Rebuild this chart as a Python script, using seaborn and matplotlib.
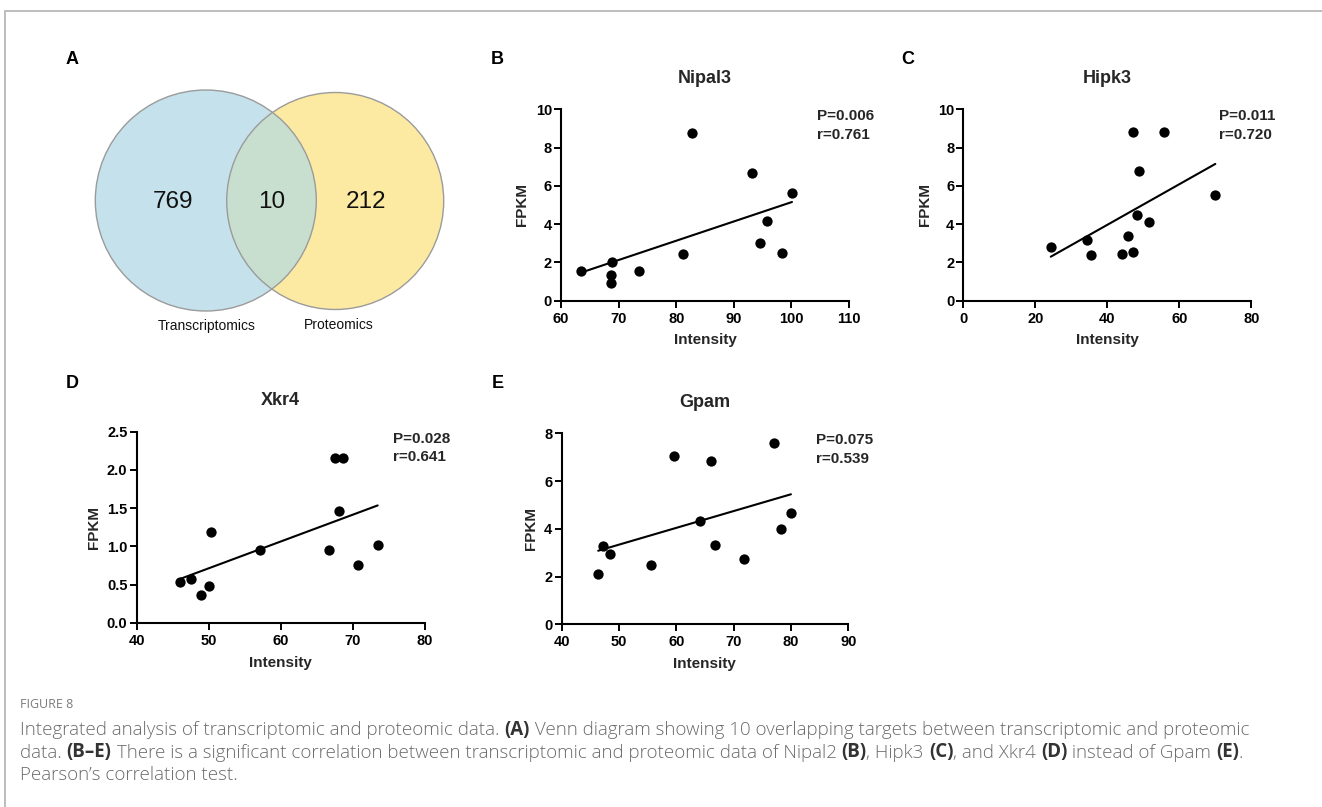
import numpy as np
import pandas as pd
import matplotlib
matplotlib.use("Agg")
import matplotlib.pyplot as plt
from matplotlib.patches import Circle
import seaborn as sns

# ---------------- data ----------------
venn_sets = ["Transcriptomics", "Proteomics"]
venn_counts = [769, 10, 212]   # transcriptomics only, overlap, proteomics only

genes = ["Nipal3", "Hipk3", "Xkr4", "Gpam"]
panel_letters = ["B", "C", "D", "E"]

nipal3_x = [63.5, 68.9, 68.6, 68.6, 73.5, 81.1, 82.8, 93.1, 94.6, 95.8, 98.4, 100.1]
nipal3_y = [1.53, 2.00, 1.36, 0.91, 1.53, 2.42, 8.75, 6.69, 3.03, 4.15, 2.51, 5.63]
hipk3_x = [24.3, 34.3, 35.6, 44.0, 45.8, 47.1, 48.3, 51.6, 48.9, 47.1, 55.8, 70.0]
hipk3_y = [2.82, 3.17, 2.39, 2.42, 3.36, 2.56, 4.48, 4.10, 6.79, 8.83, 8.83, 5.54]
xkr4_x = [46.1, 47.5, 48.9, 50.1, 50.4, 57.1, 66.7, 67.6, 68.7, 68.1, 70.8, 73.5]
xkr4_y = [0.53, 0.58, 0.37, 0.48, 1.19, 0.95, 0.95, 2.16, 2.15, 1.47, 0.76, 1.02]
gpam_x = [46.4, 47.3, 48.5, 55.6, 59.6, 64.2, 66.0, 66.7, 71.9, 77.1, 78.2, 80.0]
gpam_y = [2.11, 3.30, 2.96, 2.47, 7.04, 4.33, 6.86, 3.32, 2.75, 7.60, 3.98, 4.66]

p_values = ["0.006", "0.011", "0.028", "0.075"]
r_values = ["0.761", "0.720", "0.641", "0.539"]

x_ticks = [[60, 70, 80, 90, 100, 110], [0, 20, 40, 60, 80],
           [40, 50, 60, 70, 80], [40, 50, 60, 70, 80, 90]]
y_ticks = [[0, 2, 4, 6, 8, 10], [0, 2, 4, 6, 8, 10],
           [0.0, 0.5, 1.0, 1.5, 2.0, 2.5], [0, 2, 4, 6, 8]]
y_fmt = ["{:.0f}", "{:.0f}", "{:.1f}", "{:.0f}"]

x_label = "Intensity"
y_label = "FPKM"

caption_head = "FIGURE 8"
caption_lines = [
    [("Integrated analysis of transcriptomic and proteomic data. ", False), ("(A)", True),
     (" Venn diagram showing 10 overlapping targets between transcriptomic and proteomic", False)],
    [("data. ", False), ("(B\u2013E)", True),
     (" There is a significant correlation between transcriptomic and proteomic data of Nipal2 ", False),
     ("(B)", True), (", Hipk3 ", False), ("(C)", True), (", and Xkr4 ", False), ("(D)", True),
     (" instead of Gpam ", False), ("(E)", True), (".", False)],
    [("Pearson\u2019s correlation test.", False)],
]

# ---------------- style ----------------
sns.set_theme(style="ticks")
plt.rcParams["font.family"] = ["Liberation Sans", "DejaVu Sans"]

W, H = 1322, 807
fig = plt.figure(figsize=(W / 100, H / 100), dpi=100)
fig.patch.set_facecolor("white")


def px_axes(left, top, right, bottom):
    return fig.add_axes([left / W, 1 - bottom / H, (right - left) / W, (bottom - top) / H])


# frame lines of the figure box
frame = fig.add_axes([0, 0, 1, 1], zorder=-5)
frame.set_xlim(0, W)
frame.set_ylim(H, 0)
frame.axis("off")
frame.plot([4.5, W], [10.5, 10.5], color="#bdbdbd", lw=1.4)
frame.plot([4.5, 4.5], [10.5, H], color="#bdbdbd", lw=1.4)

# ---------------- panel A : Venn ----------------
va = px_axes(60, 70, 460, 345)
va.set_xlim(60, 460)
va.set_ylim(345, 70)
va.set_aspect("equal")
va.axis("off")
c_left = Circle((205.8, 200.5), 110.5, facecolor="#c5e1ec", edgecolor="none")
c_right = Circle((335.2, 201.0), 108.5, facecolor="#fdeaa2", edgecolor="none")
va.add_patch(c_left)
va.add_patch(c_right)
c_mid = Circle((335.2, 201.0), 108.5, facecolor="#c8dfcf", edgecolor="none")
va.add_patch(c_mid)
c_mid.set_clip_path(c_left)
va.add_patch(Circle((205.8, 200.5), 110.5, facecolor="none", edgecolor="#9b9b9b", lw=1.0))
va.add_patch(Circle((335.2, 201.0), 108.5, facecolor="none", edgecolor="#9b9b9b", lw=1.0))
for xx, cnt in zip([173, 271.7, 366], venn_counts):
    va.text(xx, 202, str(cnt), ha="center", va="center", fontsize=17.5, color="#111111")
va.text(206.7, 326, venn_sets[0], ha="center", va="center", fontsize=10, color="#111111")
va.text(339, 325, venn_sets[1], ha="center", va="center", fontsize=10, color="#111111")

# ---------------- scatter panels ----------------
rects = [(561, 109.3, 849, 300.7), (963.3, 109.3, 1251.3, 300.7),
         (136.5, 431.7, 424.5, 623.0), (561.5, 433.3, 848.3, 624.3)]
xs = [nipal3_x, hipk3_x, xkr4_x, gpam_x]
ys = [nipal3_y, hipk3_y, xkr4_y, gpam_y]

for i, gene in enumerate(genes):
    ax = px_axes(*rects[i])
    df = pd.DataFrame({"Intensity": xs[i], "FPKM": ys[i]})
    sns.regplot(data=df, x="Intensity", y="FPKM", ax=ax, ci=None, truncate=True,
                scatter_kws=dict(s=55, color="black", linewidths=0, alpha=1),
                line_kws=dict(color="black", lw=1.5))
    ax.set_facecolor("white")
    ax.set_xlim(x_ticks[i][0], x_ticks[i][-1])
    ax.set_ylim(y_ticks[i][0], y_ticks[i][-1])
    ax.set_xticks(x_ticks[i])
    ax.set_xticklabels([str(t) for t in x_ticks[i]])
    ax.set_yticks(y_ticks[i])
    ax.set_yticklabels([y_fmt[i].format(t) for t in y_ticks[i]])
    for s in ["top", "right"]:
        ax.spines[s].set_visible(False)
    for s in ["left", "bottom"]:
        ax.spines[s].set_linewidth(1.5)
        ax.spines[s].set_color("black")
    ax.tick_params(axis="both", direction="out", length=5, width=1.4, colors="black",
                   labelsize=10.5)
    ax.tick_params(axis="x", pad=3)
    ax.tick_params(axis="y", pad=1.5)
    for lab in ax.get_xticklabels() + ax.get_yticklabels():
        lab.set_fontweight("bold")
    ax.set_xlabel(x_label, fontsize=11, fontweight="bold", labelpad=5.5)
    ax.set_ylabel(y_label, fontsize=11, fontweight="bold", labelpad=4.5)
    ax.grid(False)
    hpx = rects[i][3] - rects[i][1]
    ax.text(0.5, 1 + 31 / hpx, gene, transform=ax.transAxes, ha="center", va="center",
            fontsize=13, fontweight="bold")
    ax.text(0.889, 1 - 7 / hpx, "P=" + p_values[i], transform=ax.transAxes, ha="left",
            va="center", fontsize=11, fontweight="bold")
    ax.text(0.889, 1 - 25.5 / hpx, "r=" + r_values[i], transform=ax.transAxes, ha="left",
            va="center", fontsize=11, fontweight="bold")

# panel letters
for letter, (lx, ly) in zip(["A"] + panel_letters,
                            [(72, 60), (497, 59), (908, 59), (72, 384), (498, 384)]):
    fig.text(lx / W, 1 - ly / H, letter, ha="center", va="center", fontsize=13,
             fontweight="bold", color="black")

# ---------------- caption ----------------
cap_family = ["Open Sans", "DejaVu Sans"]
fig.text(20 / W, 1 - 705 / H, caption_head, ha="left", va="center", fontsize=9,
         color="#7a7a7a", family=cap_family)
renderer = fig.canvas.get_renderer()
for li, segs in enumerate(caption_lines):
    x = 20.0
    y = 730 + 22.5 * li
    for txt, bold in segs:
        t = fig.text(x / W, 1 - y / H, txt, ha="left", va="center", fontsize=13.5,
                     fontweight="bold" if bold else "light",
                     color="#333333" if bold else "#6b6b6b", family=cap_family)
        bb = t.get_window_extent(renderer)
        x += bb.width

fig.savefig("out.png", dpi=100)
